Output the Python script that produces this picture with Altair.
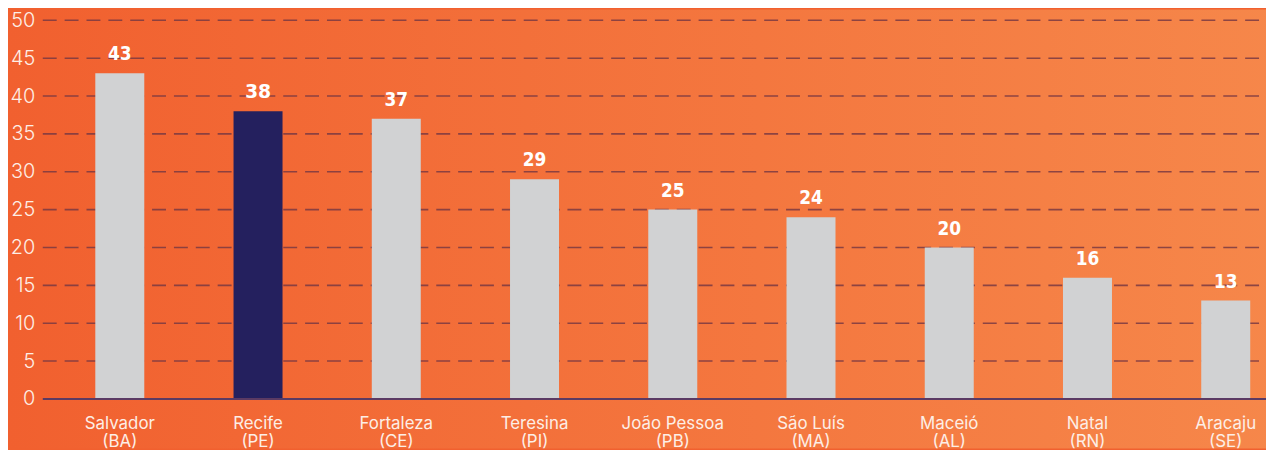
import altair as alt
import pandas as pd

cities = ["Salvador", "Recife", "Fortaleza", "Teresina", "João Pessoa",
          "São Luís", "Maceió", "Natal", "Aracaju"]
states = ["BA", "PE", "CE", "PI", "PB", "MA", "AL", "RN", "SE"]
values = [43, 38, 37, 29, 25, 24, 20, 16, 13]
highlight = "Recife"
grid_values = [5, 10, 15, 20, 25, 30, 35, 40, 45, 50]
y_ticks = [0, 5, 10, 15, 20, 25, 30, 35, 40, 45, 50]

labels = [f"{c}\n({s})" for c, s in zip(cities, states)]
df = pd.DataFrame({"label": labels, "city": cities, "value": values})
df["hl"] = df["city"] == highlight
grid_df = pd.DataFrame({"v": grid_values})

W, H = 1231, 381
PAD = {"left": 35, "top": 11, "right": 0, "bottom": 50}

xenc = alt.X("label:N", sort=labels,
             scale=alt.Scale(paddingInner=0.6456, paddingOuter=0.247, align=0.769, round=False),
             axis=alt.Axis(title=None, ticks=False, domain=False, labelAngle=0,
                           labelExpr="split(datum.label, '\\n')",
                           labelFont="Inter", labelFontSize=17, labelColor="#fdeee6",
                           labelLineHeight=18, labelPadding=17, labelBaseline="top",
                           labelOverlap=False, zindex=1))
yscale = alt.Scale(domain=[0, 50], nice=False)
yaxis = alt.Axis(title=None, values=y_ticks, grid=False, ticks=False, domain=False,
                 labelFont="Inter", labelFontSize=20, labelFontWeight=300,
                 labelColor="#fdeee6", labelPadding=8, labelOverlap=False, zindex=1)

def yenc(field):
    return alt.Y(field, scale=yscale, axis=yaxis)

bg = alt.Chart(alt.Data(values=[{}])).mark_rect(
    fill={"gradient": "linear", "x1": 0, "x2": 1, "y1": 0, "y2": 0,
          "stops": [{"offset": 0, "color": "#f1602f"},
                    {"offset": 1, "color": "#f6874a"}]}
).encode(x=alt.value(-PAD["left"]), x2=alt.value(W + 10),
         y=alt.value(-PAD["top"]), y2=alt.value(H + PAD["bottom"]))

grid = alt.Chart(grid_df).mark_rule(
    color="#7a3a42", strokeWidth=1.6, strokeDash=[14, 8], opacity=0.85
).encode(x=alt.value(0), x2=alt.value(W), y=yenc("v:Q"))

bars = alt.Chart(df).mark_bar().encode(
    x=xenc,
    y=yenc("value:Q"),
    color=alt.condition("datum.hl", alt.value("#24205e"), alt.value("#d1d2d3")),
)

base_line = alt.Chart(alt.Data(values=[{"z": 0}])).mark_rule(
    color="#5b3a63", strokeWidth=2
).encode(x=alt.value(0), x2=alt.value(W), y=yenc("z:Q"))

txt_other = alt.Chart(df).transform_filter("!datum.hl").mark_text(
    font="DejaVu Sans Condensed, Roboto, sans-serif", fontWeight="bold", fontSize=19,
    color="white", baseline="alphabetic", dy=-13
).encode(x=xenc, y=yenc("value:Q"), text="value:Q")

txt_hl = alt.Chart(df).transform_filter("datum.hl").mark_text(
    font="DejaVu Sans", fontWeight="bold", fontSize=19,
    color="white", baseline="alphabetic", dy=-13
).encode(x=xenc, y=yenc("value:Q"), text="value:Q")

chart = alt.layer(bg, grid, bars, base_line, txt_other, txt_hl).properties(
    width=W, height=H,
    autosize=alt.AutoSizeParams(type="none"),
    padding=PAD,
).configure_view(stroke=None).configure(background="#f1602f")

chart.save("out.html", embed_options={"renderer": "svg", "actions": False})
